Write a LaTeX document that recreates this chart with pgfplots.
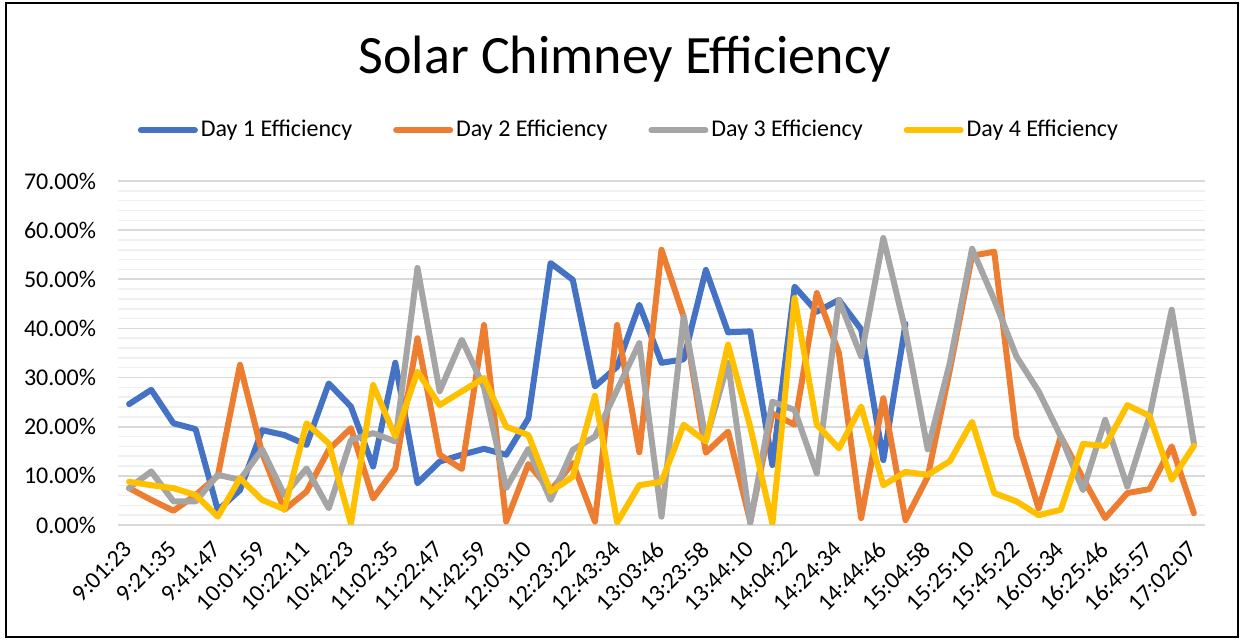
\documentclass[border=0pt]{standalone}
\usepackage{fontspec}
\setmainfont{Carlito}
\usepackage{pgfplots}
\pgfplotsset{compat=1.18}
\usepackage{pgfplotstable}
\definecolor{cBlue}{HTML}{4472C4}
\definecolor{cOrange}{HTML}{ED7D31}
\definecolor{cGray}{HTML}{A5A5A5}
\definecolor{cYellow}{HTML}{FFC000}
\definecolor{gMaj}{HTML}{D9D9D9}
\definecolor{gMin}{HTML}{F0F0F0}

\pgfplotstableread{
x y
0 24.6
1 27.5
2 20.7
3 19.5
4 3.0
5 7.1
6 19.3
7 18.3
8 16.3
9 28.8
10 24.1
11 11.9
12 33.0
13 8.5
14 12.9
15 14.3
16 15.5
17 14.3
18 21.7
19 53.3
20 49.9
21 28.2
22 32.2
23 44.8
24 33.0
25 33.7
26 51.9
27 39.2
28 39.4
29 12.2
30 48.5
31 43.4
32 45.8
33 39.8
34 13.2
35 40.9
}\dayone

\pgfplotstableread{
x y
0 7.5
1 5.1
2 2.9
3 6.1
4 10.0
5 32.6
6 14.6
7 3.1
8 6.8
9 15.3
10 19.7
11 5.4
12 11.5
13 38.0
14 14.3
15 11.4
16 40.7
17 0.7
18 12.4
19 7.0
20 12.6
21 0.7
22 40.7
23 14.8
24 56.0
25 42.4
26 14.7
27 19.0
28 0.7
29 22.7
30 20.4
31 47.2
32 35.0
33 1.4
34 25.8
35 1.0
36 9.8
37 31.6
38 54.8
39 55.6
40 18.0
41 3.4
42 18.0
43 9.5
44 1.4
45 6.5
46 7.3
47 16.0
48 2.4
}\daytwo

\pgfplotstableread{
x y
0 7.5
1 10.9
2 4.8
3 4.8
4 10.2
5 9.2
6 15.4
7 6.1
8 11.5
9 3.4
10 17.3
11 18.7
12 17.0
13 52.3
14 27.2
15 37.7
16 28.0
17 7.5
18 15.5
19 5.1
20 15.3
21 18.0
22 27.5
23 37.0
24 1.7
25 42.4
26 17.3
27 33.0
28 0.4
29 25.1
30 23.4
31 10.5
32 45.8
33 34.3
34 58.4
35 39.5
36 15.4
37 33.0
38 56.2
39 45.8
40 34.3
41 27.2
42 18.0
43 7.1
44 21.4
45 7.8
46 22.1
47 43.8
48 16.6
}\daythree

\pgfplotstableread{
x y
0 8.8
1 8.1
2 7.5
3 6.1
4 1.7
5 9.5
6 5.1
7 3.2
8 20.7
9 16.6
10 0.3
11 28.5
12 18.0
13 31.2
14 24.4
15 27.2
16 29.9
17 20.0
18 18.3
19 6.8
20 9.8
21 26.3
22 0.5
23 8.1
24 8.8
25 20.4
26 17.0
27 36.7
28 20.0
29 0.3
30 46.2
31 20.4
32 15.6
33 24.1
34 8.1
35 10.8
36 10.2
37 13.0
38 21.0
39 6.5
40 4.8
41 2.0
42 3.1
43 16.5
44 16.1
45 24.4
46 22.2
47 9.2
48 16.1
}\dayfour

\begin{document}
\begin{tikzpicture}
\begin{axis}[
  at={(0,0)}, anchor=south west,
  scale only axis,
  width=543.5pt, height=172pt,
  xmin=-0.5, xmax=48.5,
  ymin=0, ymax=70,
  ytick={0,10,...,70},
  minor ytick={2,4,...,68},
  ymajorgrids, yminorgrids,
  major grid style={gMaj, line width=0.85pt},
  minor grid style={gMin, line width=0.75pt},
  axis line style={draw=none},
  tick style={draw=none},
  minor tick style={draw=none},
  /pgf/number format/assume math mode=true,
  yticklabel={\pgfmathprintnumber[fixed,fixed zerofill,precision=2]{\tick}\%},
  yticklabel style={font=\fontsize{12}{14}\selectfont, xshift=-7.5pt},
  xtick={0,2,...,48},
  xticklabels={9:01:23,9:21:35,9:41:47,10:01:59,10:22:11,10:42:23,11:02:35,11:22:47,11:42:59,12:03:10,12:23:22,12:43:34,13:03:46,13:23:58,13:44:10,14:04:22,14:24:34,14:44:46,15:04:58,15:25:10,15:45:22,16:05:34,16:25:46,16:45:57,17:02:07},
  xticklabel style={rotate=45, anchor=east, font=\fontsize{12}{14}\selectfont, inner sep=0.5pt},
  xticklabel shift=10pt,
  title={Solar Chimney Efficiency},
  title style={at={(0.4664,1.279)}, anchor=base, font=\fontsize{27}{32}\selectfont},
  legend columns=4,
  legend style={at={(0.4705,1.148)}, anchor=center, draw=none, fill=none,
    font=\fontsize{12}{14}\selectfont,
    /tikz/every even column/.append style={column sep=19pt},
    /tikz/every odd column/.append style={column sep=0pt},
    nodes={inner sep=1.5pt}},
  legend image code/.code={\draw[#1, line width=3pt, line cap=round] (1.5pt,0pt) -- (28.5pt,0pt);},
  every axis plot/.append style={line width=3pt, line join=round, line cap=round, mark=none},
]
\addplot[cBlue] table[x=x,y=y] {\dayone};
\addlegendentry{Day 1 Efficiency}
\addplot[cOrange] table[x=x,y=y] {\daytwo};
\addlegendentry{Day 2 Efficiency}
\addplot[cGray] table[x=x,y=y] {\daythree};
\addlegendentry{Day 3 Efficiency}
\addplot[cYellow] table[x=x,y=y] {\dayfour};
\addlegendentry{Day 4 Efficiency}
\end{axis}
\draw[black, line width=1pt] (-56pt,-56pt) rectangle (560pt,261pt);
\pgfresetboundingbox
\useasboundingbox (-59pt,-57.5pt) rectangle (563pt,262.5pt);
\end{tikzpicture}
\end{document}
